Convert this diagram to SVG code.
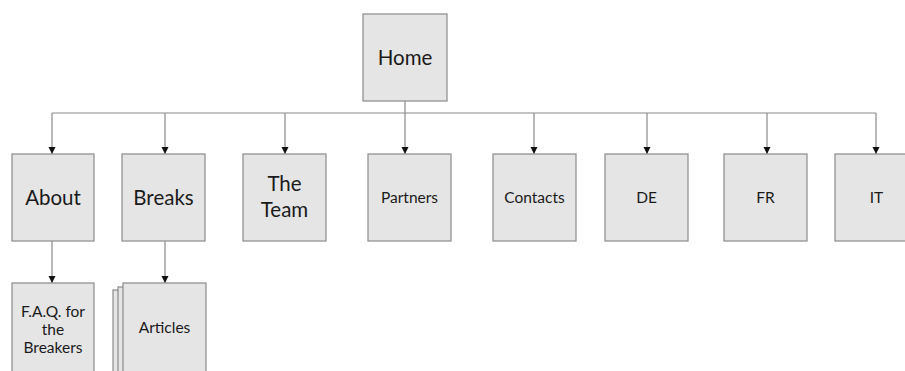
<svg xmlns="http://www.w3.org/2000/svg" width="905" height="371" viewBox="0 0 905 371">
<defs>
<style>
.box{fill:#e5e5e5;stroke:#8a8a8a;stroke-width:1.2}
.t{font-family:Lato,"Open Sans",sans-serif;fill:#1a1a1a;text-anchor:middle}
.big{font-size:20.5px}
.sm{font-size:15.5px}
.ln{fill:none;stroke:#8a8a8a;stroke-width:1.2}
</style>
<marker id="ah" markerWidth="9" markerHeight="9" refX="7" refY="3.5" orient="auto" markerUnits="userSpaceOnUse">
<path d="M0,0 L7,3.5 L0,7 Z" fill="#111"/>
</marker>
</defs>
<rect width="905" height="371" fill="#fff"/>
<g id="connectors">
<path class="ln" d="M52,113 H876"/>
<path class="ln" d="M405,101 V113"/>
<path class="ln" d="M52,113 V154" marker-end="url(#ah)"/>
<path class="ln" d="M165,113 V154" marker-end="url(#ah)"/>
<path class="ln" d="M285,113 V154" marker-end="url(#ah)"/>
<path class="ln" d="M405,113 V154" marker-end="url(#ah)"/>
<path class="ln" d="M534,113 V154" marker-end="url(#ah)"/>
<path class="ln" d="M647,113 V154" marker-end="url(#ah)"/>
<path class="ln" d="M767,113 V154" marker-end="url(#ah)"/>
<path class="ln" d="M876,113 V154" marker-end="url(#ah)"/>
<path class="ln" d="M52,241 V283" marker-end="url(#ah)"/>
<path class="ln" d="M165,241 V283" marker-end="url(#ah)"/>
</g>
<g id="home"><rect class="box" x="363" y="14" width="84" height="87"/><text class="t big" x="405" y="65">Home</text></g>
<g id="about"><rect class="box" x="12" y="154" width="82" height="87"/><text class="t big" x="53" y="205">About</text></g>
<g id="breaks"><rect class="box" x="122" y="154" width="83" height="87"/><text class="t big" x="163.5" y="205">Breaks</text></g>
<g id="team"><rect class="box" x="243" y="154" width="83" height="87"/><text class="t big" x="284.5" y="191">The</text><text class="t big" x="284.5" y="217">Team</text></g>
<g id="partners"><rect class="box" x="368" y="154" width="83" height="87"/><text class="t sm" x="409.5" y="203">Partners</text></g>
<g id="contacts"><rect class="box" x="493" y="154" width="83" height="87"/><text class="t sm" x="534.5" y="203">Contacts</text></g>
<g id="de"><rect class="box" x="605" y="154" width="83" height="87"/><text class="t sm" x="646.5" y="203">DE</text></g>
<g id="fr"><rect class="box" x="724" y="154" width="83" height="87"/><text class="t sm" x="765.5" y="203">FR</text></g>
<g id="it"><rect class="box" x="835" y="154" width="83" height="87"/><text class="t sm" x="876.5" y="203">IT</text></g>
<g id="faq"><rect class="box" x="12" y="283" width="82" height="100"/><text class="t sm" x="53" y="317">F.A.Q. for</text><text class="t sm" x="53" y="335">the</text><text class="t sm" x="53" y="353">Breakers</text></g>
<g id="articles"><rect class="box" x="113" y="290" width="83" height="100"/><rect class="box" x="118" y="287" width="83" height="100"/><rect class="box" x="123" y="283" width="83" height="100"/><text class="t sm" x="164.5" y="333">Articles</text></g>
</svg>
